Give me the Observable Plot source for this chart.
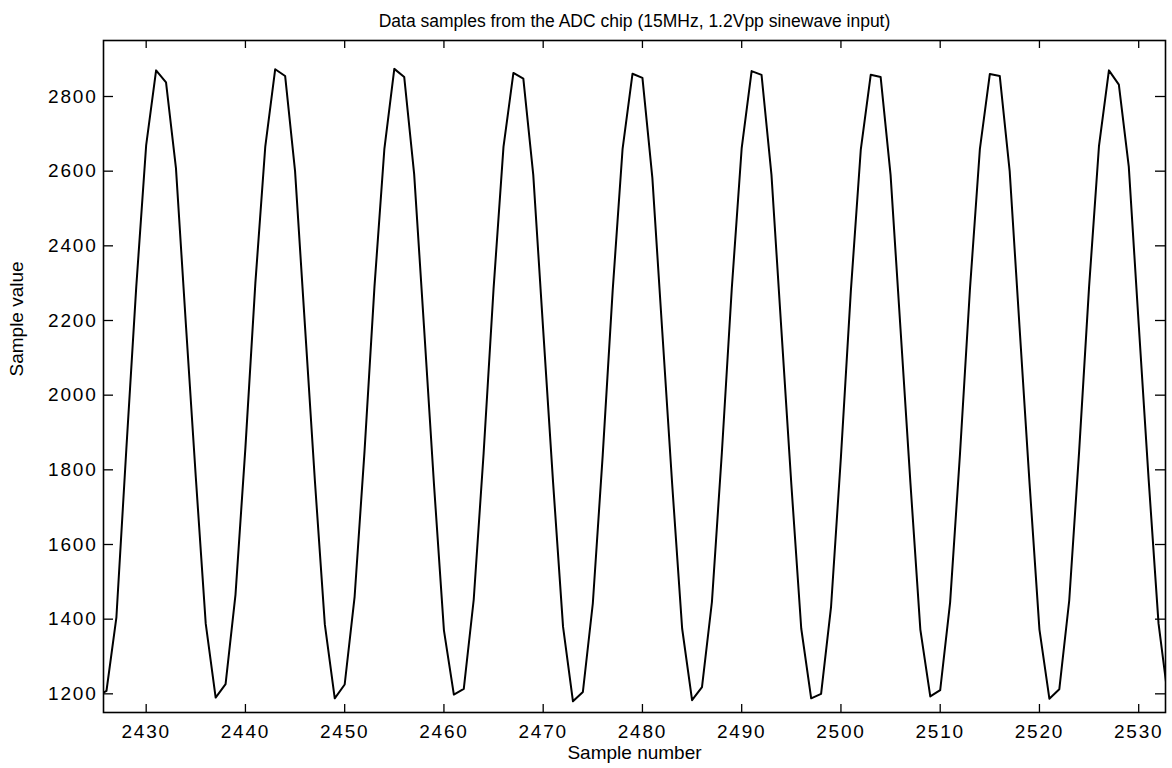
<!DOCTYPE html>
<html><head><meta charset="utf-8">
<script src="https://cdn.jsdelivr.net/npm/d3@7"></script>
<script src="https://cdn.jsdelivr.net/npm/@observablehq/plot@0.6"></script>
<style>
html,body{margin:0;padding:0;background:#fff;}
#chart svg{display:block;}
g[aria-label="x-axis tick label"] text, g[aria-label="y-axis tick label"] text {letter-spacing:1.8px;}
g[aria-label="x label"] text {letter-spacing:0.6px;}
</style></head><body><div id="chart"></div>
<script>
const title = "Data samples from the ADC chip (15MHz, 1.2Vpp sinewave input)";
const xLabel = "Sample number";
const yLabel = "Sample value";
const firstSample = 2425;
const sampleValues = [
  1192, 1208, 1405, 1855, 2290, 2670,
  2870, 2838, 2608, 2190, 1780, 1388, 1190, 1226, 1466, 1860, 2300, 2666,
  2873, 2855, 2600, 2185, 1770, 1386, 1188, 1225, 1460, 1850, 2290, 2660,
  2874, 2852, 2592, 2180, 1760, 1370, 1198, 1213, 1452, 1845, 2285, 2665,
  2863, 2848, 2590, 2175, 1765, 1380, 1180, 1205, 1442, 1840, 2280, 2660,
  2861, 2850, 2582, 2170, 1760, 1375, 1183, 1218, 1446, 1845, 2285, 2662,
  2868, 2858, 2590, 2175, 1762, 1375, 1188, 1200, 1432, 1835, 2280, 2658,
  2858, 2852, 2590, 2178, 1765, 1372, 1193, 1210, 1445, 1845, 2285, 2660,
  2860, 2855, 2600, 2180, 1765, 1372, 1187, 1212, 1450, 1850, 2290, 2668,
  2870, 2832, 2612, 2190, 1775, 1388, 1180
];
const xTicks = [2430, 2440, 2450, 2460, 2470, 2480, 2490, 2500, 2510, 2520, 2530];
const yTicks = [1200, 1400, 1600, 1800, 2000, 2200, 2400, 2600, 2800];
const xDomain = [2425.7, 2532.7];
const yDomain = [1150, 2950];

const W = 1172, H = 768;
const M = {top: 40, right: 7, bottom: 56, left: 103};
const frameW = W - M.left - M.right, frameH = H - M.top - M.bottom;
const xTickLen = 8, yTickLen = 10;

const data = sampleValues.map((v, i) => ({sample: firstSample + i, value: v}));
const font = "'Liberation Sans', Arial, Helvetica, sans-serif";
const fmt = d3.format("d");

const tickStyle = {stroke: "black", strokeWidth: 1.3};
const chart = Plot.plot({
  width: W, height: H,
  marginTop: M.top, marginRight: M.right, marginBottom: M.bottom, marginLeft: M.left,
  style: {fontFamily: font, fontSize: "19px", color: "black", background: "white"},
  x: {domain: xDomain},
  y: {domain: yDomain},
  marks: [
    Plot.line(data, {x: "sample", y: "value", stroke: "black", strokeWidth: 2, clip: true}),
    // tick labels
    Plot.axisX(xTicks, {anchor: "bottom", tickSize: 0, tickPadding: 12, tickFormat: fmt, label: null, fontSize: 19}),
    Plot.axisY(yTicks, {anchor: "left", tickSize: 0, tickPadding: 6, tickFormat: fmt, label: null, fontSize: 19}),
    // inward ticks on all four sides
    Plot.ruleX(xTicks, {x: d => d, insetTop: frameH - xTickLen, ...tickStyle}),
    Plot.ruleX(xTicks, {x: d => d, insetBottom: frameH - xTickLen, ...tickStyle}),
    Plot.ruleY(yTicks, {y: d => d, insetRight: frameW - yTickLen, ...tickStyle}),
    Plot.ruleY(yTicks, {y: d => d, insetLeft: frameW - yTickLen, ...tickStyle}),
    Plot.frame({stroke: "black", strokeWidth: 1.6}),
    Plot.text([title], {frameAnchor: "top", dy: -14, lineAnchor: "bottom", fontSize: 17.5, fill: "black"}),
    Plot.text([xLabel], {frameAnchor: "bottom", dy: 46, lineAnchor: "bottom", fontSize: 19, fill: "black", ariaLabel: "x label"}),
    Plot.text([yLabel], {frameAnchor: "left", dx: -94, rotate: -90, lineAnchor: "top", fontSize: 19, fill: "black"})
  ]
});
document.getElementById("chart").appendChild(chart);
</script>
</body></html>
